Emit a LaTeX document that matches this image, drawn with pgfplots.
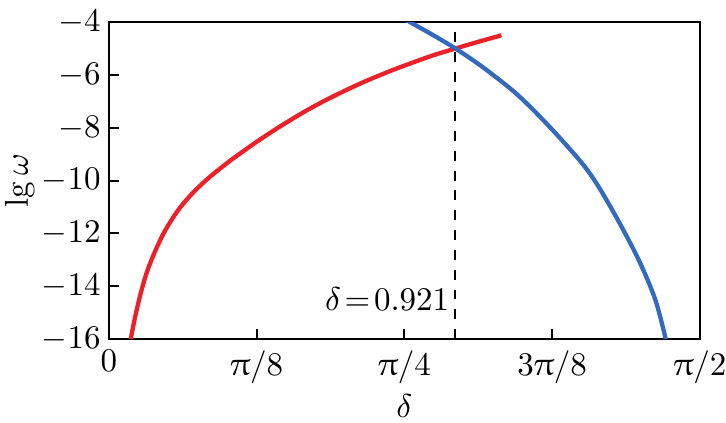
\documentclass[border=0pt]{standalone}
\usepackage{pgfplots}
\pgfplotsset{compat=1.18}
\usepackage{upgreek}
\definecolor{cred}{RGB}{236,32,40}
\definecolor{cblue}{RGB}{52,106,190}
\begin{document}
\begin{tikzpicture}
\begin{axis}[
  scale only axis,
  width=179pt, height=96pt,
  xmin=0, xmax=1.5708, ymin=-16, ymax=-4,
  xtick={0,0.3927,0.7854,1.1781,1.5708},
  xticklabels={$0$,$\uppi/8$,$\uppi/4$,$3\uppi/8$,$\uppi/2$},
  ytick={-16,-14,-12,-10,-8,-6,-4},
  tick align=inside,
  tick pos=left,
  major tick length=3pt,
  axis line style={line width=0.6pt},
  every tick/.style={line width=0.6pt, black},
  yticklabel style={xshift=1pt},
  xlabel={$\delta$},
  ylabel={$\lg\omega$},
  xlabel style={at={(axis description cs:0.5,-0.212)}, anchor=center},
  ylabel style={at={(axis description cs:-0.151,0.5)}, anchor=center},
  clip=true,
]
\addplot[cred, line width=1.3pt, smooth] coordinates {
(0.058,-16) (0.069,-15.2) (0.083,-14.35) (0.100,-13.5) (0.122,-12.7)
(0.149,-11.9) (0.185,-11.1) (0.224,-10.45) (0.269,-9.85) (0.322,-9.25)
(0.349,-8.97) (0.400,-8.46) (0.455,-7.95) (0.509,-7.48) (0.562,-7.06)
(0.615,-6.68) (0.672,-6.30) (0.722,-6.00) (0.766,-5.75) (0.855,-5.29)
(0.921,-5.00) (0.988,-4.72) (1.043,-4.50)
};
\addplot[cblue, line width=1.3pt, smooth] coordinates {
(0.790,-3.92) (0.800,-4.0) (0.860,-4.48) (0.921,-5.0) (0.992,-5.69) (1.082,-6.70)
(1.167,-7.90) (1.255,-9.30) (1.300,-10.20) (1.353,-11.50)
(1.408,-13.0) (1.452,-14.5) (1.480,-16.0)
};
\addplot[black, dashed, line width=0.6pt] coordinates {(0.921,-16) (0.921,-4)};
\node[anchor=east, inner sep=1pt] at (axis cs:0.915,-14.5) {$\delta\!=\!0.921$};
\end{axis}
\pgfresetboundingbox
\path[use as bounding box] ([xshift=-33pt,yshift=-25.2pt]current axis.south west) rectangle ([xshift=7.9pt,yshift=6.7pt]current axis.north east);
\end{tikzpicture}
\end{document}
